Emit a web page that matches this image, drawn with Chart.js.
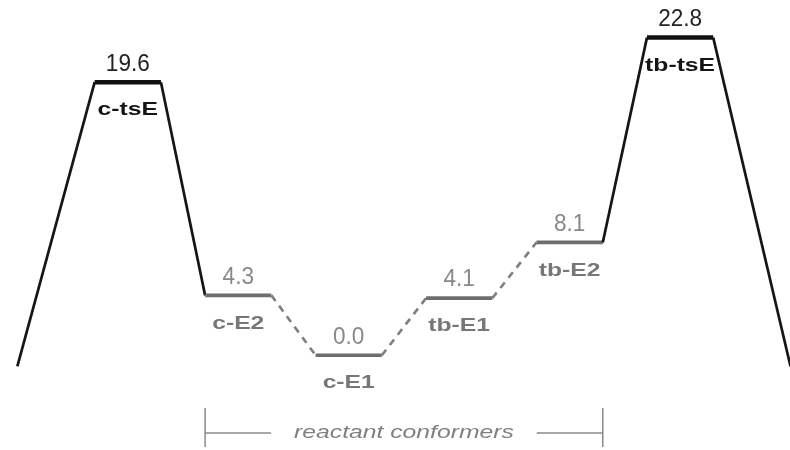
<!DOCTYPE html>
<html><head><meta charset="utf-8">
<script src="https://cdn.jsdelivr.net/npm/chart.js@4.4.1/dist/chart.umd.min.js"></script>
<style>html,body{margin:0;padding:0;background:#fff}#wrap{width:790px;height:450px}</style>
</head><body><div id="wrap"><canvas id="c" width="790" height="450"></canvas></div>
<script>
// ---- data ----
const levelNames = ['c-tsE', 'c-E2', 'c-E1', 'tb-E1', 'tb-E2', 'tb-tsE'];
const levelEnergies = [19.6, 4.3, 0.0, 4.1, 8.1, 22.8];
const energyLabels = ['19.6', '4.3', '0.0', '4.1', '8.1', '22.8'];
const transitionStates = [true, false, false, false, false, true];
const profileEnds = [-0.8, -0.8];
const groupLabel = 'reactant conformers';
const groupLevels = [1, 4];

// ---- build profile ----
const HALF = 0.3;
const n = levelEnergies.length;
const pts = [{x: -1, y: profileEnds[0]}];
levelEnergies.forEach((e, i) => { pts.push({x: i - HALF, y: e}); pts.push({x: i + HALF, y: e}); });
pts.push({x: n, y: profileEnds[1]});

function segInfo(ctx) {
  const p = ctx.p0DataIndex;
  if (p % 2 === 1) {
    const lv = (p - 1) / 2;
    return transitionStates[lv] ? {c: '#111111', w: 4.5, d: []} : {c: '#6e6e6e', w: 3.6, d: []};
  }
  const a = p / 2 - 1, b = p / 2;
  const dashed = a >= 0 && b < n && !transitionStates[a] && !transitionStates[b];
  return dashed ? {c: '#7e7e7e', w: 2.6, d: [7, 6]} : {c: '#151515', w: 2.7, d: []};
}

function drawText(ctx, txt, cx, cy, font, color, sx) {
  ctx.save();
  ctx.font = font;
  ctx.fillStyle = color;
  ctx.textAlign = 'center';
  ctx.textBaseline = 'middle';
  ctx.translate(cx, cy);
  ctx.scale(sx, 1);
  ctx.fillText(txt, 0, 0);
  ctx.restore();
}

const FONT = '"Liberation Sans", Arial, Helvetica, sans-serif';
const labelsPlugin = {
  id: 'labels',
  afterDatasetsDraw(chart) {
    const {ctx, scales: {x, y}, chartArea} = chart;
    levelNames.forEach((name, i) => {
      const cx = x.getPixelForValue(i), cy = y.getPixelForValue(levelEnergies[i]);
      const ts = transitionStates[i];
      drawText(ctx, energyLabels[i], cx, cy - 18, '23px ' + FONT, ts ? '#222222' : '#888888', 0.98);
      drawText(ctx, name, cx, cy + 28, 'bold 19px ' + FONT, ts ? '#141414' : '#777777', 1.3);
    });
    // bracket
    const x0 = x.getPixelForValue(groupLevels[0] - HALF);
    const x1 = x.getPixelForValue(groupLevels[1] + HALF);
    const by = chartArea.bottom - 17;
    ctx.save();
    ctx.strokeStyle = '#8a8a8a';
    ctx.lineWidth = 1.5;
    ctx.font = 'italic 19px ' + FONT;
    const tw = ctx.measureText(groupLabel).width * 1.3;
    const mid = (x0 + x1) / 2;
    ctx.beginPath();
    ctx.moveTo(x0, by - 25); ctx.lineTo(x0, by + 14);
    ctx.moveTo(x1, by - 25); ctx.lineTo(x1, by + 14);
    ctx.moveTo(x0, by); ctx.lineTo(mid - tw / 2 - 23, by);
    ctx.moveTo(mid + tw / 2 + 23, by); ctx.lineTo(x1, by);
    ctx.stroke();
    ctx.restore();
    drawText(ctx, groupLabel, mid, by, 'italic 19px ' + FONT, '#808080', 1.3);
  }
};

new Chart(document.getElementById('c'), {
  type: 'line',
  data: {
    datasets: [{
      data: pts,
      pointRadius: 0,
      borderColor: '#151515',
      borderWidth: 2.7,
      borderJoinStyle: 'round',
      borderCapStyle: 'butt',
      tension: 0,
      fill: false,
      segment: {
        borderColor: c => segInfo(c).c,
        borderWidth: c => segInfo(c).w,
        borderDash: c => segInfo(c).d
      }
    }]
  },
  options: {
    responsive: false,
    animation: false,
    layout: {padding: 0},
    plugins: {legend: {display: false}, tooltip: {enabled: false}},
    scales: {
      x: {type: 'linear', display: false, min: -1.157, max: 5.995},
      y: {type: 'linear', display: false, min: -6.8, max: 25.5}
    }
  },
  plugins: [labelsPlugin]
});
</script>
</body></html>
